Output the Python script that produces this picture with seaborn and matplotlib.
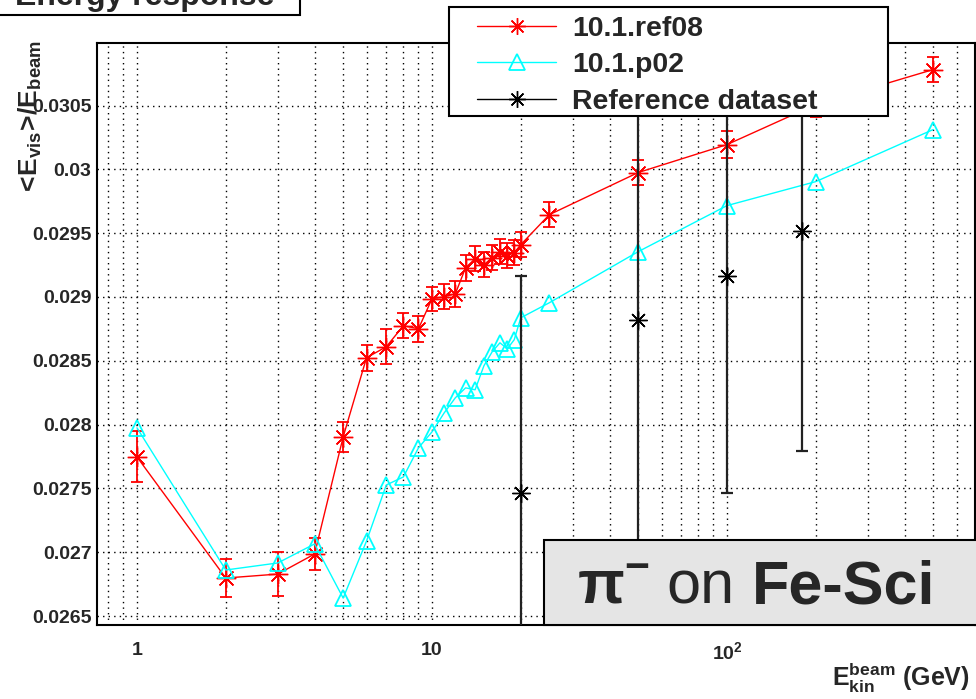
import numpy as np
import pandas as pd
import matplotlib
matplotlib.use("Agg")
import matplotlib.pyplot as plt
import seaborn as sns
from matplotlib.lines import Line2D
from matplotlib.patches import Rectangle
from matplotlib.ticker import FixedLocator, FixedFormatter, MultipleLocator, NullFormatter

# ---------------- data ----------------
energies = [1, 2, 3, 4, 5, 6, 7, 8, 9, 10, 11, 12, 13, 14, 15, 16, 17, 18, 19, 20,
            25, 50, 100, 200, 500]
ref08 = [0.027747, 0.026798, 0.026829, 0.026986, 0.027904, 0.028524, 0.028610,
         0.028775, 0.028751, 0.028986, 0.029002, 0.029025, 0.029229, 0.029300,
         0.029253, 0.029308, 0.029355, 0.029324, 0.029347, 0.029410, 0.029645,
         0.029975, 0.030194, 0.030508, 0.030782]
ref08_err = [0.00020, 0.00015, 0.00017, 0.000125, 0.00012, 0.00010, 0.000137,
             0.00010, 0.00010, 0.000095, 0.00010, 0.00010, 0.00010, 0.00010,
             0.00010, 0.00010, 0.00010, 0.00010, 0.00010, 0.00010, 0.00010,
             0.00010, 0.000105, 0.00010, 0.00010]
p02 = [0.027975, 0.026861, 0.026916, 0.027065, 0.026641, 0.027088, 0.027527,
       0.027590, 0.027818, 0.027943, 0.028092, 0.028210, 0.028288, 0.028273,
       0.028461, 0.028571, 0.028641, 0.028594, 0.028665, 0.028837, 0.028955,
       0.029355, 0.029716, 0.029904, 0.030312]
ref_energies = [20, 50, 100, 180]
ref_vals = [0.027465, 0.028822, 0.029167, 0.029520]
ref_err = [0.00170, 0.00250, 0.00170, 0.00173]

series_labels = ["10.1.ref08", "10.1.p02", "Reference dataset"]
ytick_vals = [0.0265, 0.027, 0.0275, 0.028, 0.0285, 0.029, 0.0295, 0.03, 0.0305]
ytick_labels = ["0.0265", "0.027", "0.0275", "0.028", "0.0285", "0.029", "0.0295", "0.03", "0.0305"]
xtick_vals = [1, 10, 100]
xtick_labels = ["1", "10", r"$\mathbf{10^{2}}$"]

# ---------------- style ----------------
sns.set_theme(style="white")
plt.rcParams["font.family"] = ["Liberation Sans", "DejaVu Sans"]
plt.rcParams["mathtext.fontset"] = "custom"
plt.rcParams["mathtext.rm"] = "Liberation Sans"
plt.rcParams["mathtext.bf"] = "Liberation Sans:bold"
plt.rcParams["mathtext.it"] = "Liberation Sans:italic"
plt.rcParams["mathtext.default"] = "bf"

W, H = 976, 699
fig = plt.figure(figsize=(W / 100, H / 100), dpi=100)
fig.patch.set_facecolor("white")
ax = fig.add_axes([97 / W, (H - 625) / H, 878 / W, 582 / H])
ax.set_facecolor("white")

RED = "#ff0000"
CYAN = "#00ffff"

df_red = pd.DataFrame({"E": energies, "v": ref08})
df_cyan = pd.DataFrame({"E": energies, "v": p02})

star = (8, 2, 0)

# red series
sns.lineplot(data=df_red, x="E", y="v", ax=ax, color=RED, lw=1.0, sort=False,
             errorbar=None, marker=star, markersize=14, markeredgewidth=1.0,
             markeredgecolor=RED, zorder=3)
ax.errorbar(energies, ref08, yerr=ref08_err, fmt="none", ecolor=RED, elinewidth=1.3,
            capsize=4.5, capthick=1.3, zorder=3)

# cyan series
sns.lineplot(data=df_cyan, x="E", y="v", ax=ax, color=CYAN, lw=1.0, sort=False,
             errorbar=None, marker="^", markersize=11, markerfacecolor="none",
             markeredgecolor=CYAN, markeredgewidth=1.3, zorder=4)

# reference dataset (points with error bars, no line)
ax.errorbar(ref_energies, ref_vals, yerr=ref_err, fmt="none", ecolor="#222222",
            elinewidth=1.6, capsize=4.5, capthick=1.6, zorder=5)
ax.plot(ref_energies, ref_vals, linestyle="none", marker=star, markersize=13,
        markeredgewidth=1.0, color="black", zorder=5)

# ---------------- axes ----------------
ax.set_xscale("log")
ax.set_xlim(0.732, 693)
ax.set_ylim(0.02643, 0.03099)
ax.xaxis.set_major_locator(FixedLocator(xtick_vals))
ax.xaxis.set_major_formatter(FixedFormatter(xtick_labels))
minor_x = [m * 10.0 ** k for k in (-1, 0, 1, 2) for m in range(2, 10)]
ax.xaxis.set_minor_locator(FixedLocator(minor_x))
ax.xaxis.set_minor_formatter(NullFormatter())
ax.yaxis.set_major_locator(FixedLocator(ytick_vals))
ax.yaxis.set_major_formatter(FixedFormatter(ytick_labels))
ax.yaxis.set_minor_locator(MultipleLocator(0.0001))

ax.tick_params(axis="both", which="major", direction="in", length=14, width=1.2,
               color="black", labelsize=14, top=False, right=False)
ax.tick_params(axis="both", which="minor", direction="in", length=7, width=1.0,
               color="black", top=False, right=False)
ax.tick_params(axis="x", which="major", pad=12)
ax.tick_params(axis="y", which="major", pad=4)
for lab in ax.get_xticklabels() + ax.get_yticklabels():
    lab.set_fontweight("bold")

ax.grid(False)
ax.grid(True, which="both", axis="x", color="black", linestyle=(0, (1, 3)), linewidth=1.0)
ax.grid(True, which="major", axis="y", color="black", linestyle=(0, (1, 3)), linewidth=1.0)
ax.set_axisbelow(True)
for s in ax.spines.values():
    s.set_color("black")
    s.set_linewidth(1.5)
ax.set_xlabel("")
ax.set_ylabel("")

# axis titles
fig.text(970 / W, 1 - 686 / H, r"$\mathbf{E^{beam}_{kin}}$ (GeV)", ha="right",
         va="baseline", fontsize=18, fontweight="bold")
fig.text(30 / W, 1 - 40 / H, r"$\mathbf{<\!E_{vis}\!>\!/E_{beam}}$", rotation=90,
         ha="center", va="top", fontsize=19, fontweight="bold")

# title box (cut at the top)
fig.patches.append(Rectangle((-2 / W, 1 - 15 / H), 302 / W, 40 / H, transform=fig.transFigure,
                             facecolor="white", edgecolor="black", linewidth=1.5, zorder=6))
fig.text(15 / W, 1 - 5 / H, "Energy response", ha="left", va="baseline", fontsize=23,
         fontweight="bold", zorder=7)

# legend box
fig.patches.append(Rectangle((449 / W, 1 - 116 / H), 439 / W, 109 / H, transform=fig.transFigure,
                             facecolor="white", edgecolor="black", linewidth=1.5, zorder=8))
handles = [
    Line2D([], [], color=RED, lw=1.0, marker=star, markersize=12, markeredgewidth=1.0),
    Line2D([], [], color=CYAN, lw=1.0, marker="^", markersize=11, markerfacecolor="none",
           markeredgewidth=1.3),
    Line2D([], [], color="black", lw=1.0, marker=star, markersize=12, markeredgewidth=1.0),
]
leg = fig.legend(handles, series_labels, loc="upper left",
                 bbox_to_anchor=(460 / W, 1 + 1 / H), bbox_transform=fig.transFigure,
                 frameon=False, prop={"weight": "bold", "size": 20.5},
                 handlelength=2.78, handletextpad=0.55, labelspacing=0.36, borderpad=0.1)
leg.set_zorder(9)

# text box "pi- on Fe-Sci"
fig.patches.append(Rectangle((544 / W, 1 - 625 / H), 440 / W, 85 / H, transform=fig.transFigure,
                             facecolor="#e5e5e5", edgecolor="black", linewidth=1.5, zorder=8))
base = 1 - 603 / H
fig.text(577 / W, base, r"$\mathbf{\pi^{-}}$", ha="left", va="baseline", fontsize=44, zorder=9)
fig.text(666 / W, base, "on", ha="left", va="baseline", fontsize=44, zorder=9)
fig.text(752 / W, base, "Fe-Sci", ha="left", va="baseline", fontsize=44, fontweight="bold", zorder=9)

fig.savefig("out.png", dpi=100)
